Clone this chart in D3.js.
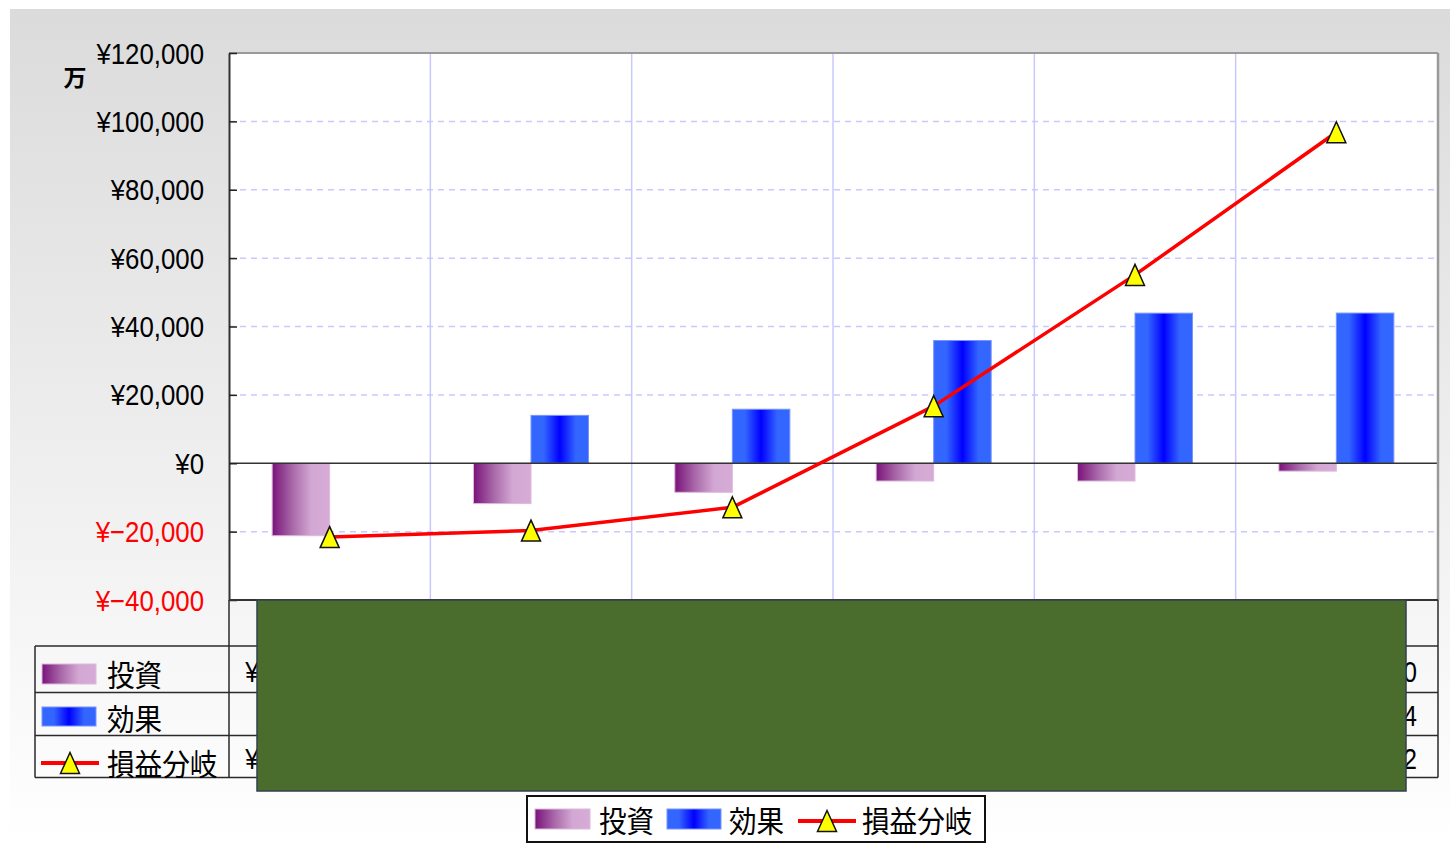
<!DOCTYPE html>
<html>
<head>
<meta charset="utf-8">
<script src="https://cdn.jsdelivr.net/npm/d3@7/dist/d3.min.js"></script>
<style>
  html, body { margin: 0; padding: 0; background: #ffffff; }
  svg { display: block; }
</style>
</head>
<body>
<svg id="chart" width="1450" height="844"></svg>
<script>
// ---- data (raw yen; the value axis is shown in 万) ----
const categories = ["1年目", "2年目", "3年目", "4年目", "5年目", "6年目"];
const seriesNames = ["投資", "効果", "損益分岐"];
const investment = [-212000000, -118000000, -85000000, -52000000, -52000000, -23000000];
const effect = [0, 140000000, 158000000, 359000000, 439000000, 439287914];
const breakEven = [-216000000, -197000000, -129000000, 167000000, 551000000, 968102372];
const yTicks = [-40000, -20000, 0, 20000, 40000, 60000, 80000, 100000, 120000];
const unitLabel = "万";
const unitDivisor = 10000;

const W = 1450, H = 844;
const plot = { left: 229, right: 1437, top: 53, bottom: 600 };
const table = { left: 35, headerBottom: 646, rows: [646, 692.5, 735.5, 777.5] };

const numFont = "'Liberation Sans', Arial, sans-serif";
const jpFont = "'Noto Sans CJK JP', 'Noto Sans CJK SC', sans-serif";
const fmt = d3.format(",");
const yen = v => "¥" + fmt(v);

const svg = d3.select("#chart");
const defs = svg.append("defs");

// background: soft grey fading to white
const bg = defs.append("linearGradient").attr("id", "bgGrad")
  .attr("x1", 0).attr("y1", 0).attr("x2", 0).attr("y2", 1);
bg.append("stop").attr("offset", "0").attr("stop-color", "#dbdbdb");
bg.append("stop").attr("offset", "1").attr("stop-color", "#ffffff");

const invGrad = defs.append("linearGradient").attr("id", "invGrad")
  .attr("x1", 0).attr("y1", 0).attr("x2", 1).attr("y2", 0);
[["0", "#7a137a"], ["0.35", "#a868a8"], ["0.68", "#d3a7d3"], ["1", "#d6acd6"]]
  .forEach(([o, c]) => invGrad.append("stop").attr("offset", o).attr("stop-color", c));

const effGrad = defs.append("linearGradient").attr("id", "effGrad")
  .attr("x1", 0).attr("y1", 0).attr("x2", 1).attr("y2", 0);
[["0", "#3366ff"], ["0.22", "#3366ff"], ["0.5", "#0000ff"], ["0.78", "#3366ff"], ["1", "#3366ff"]]
  .forEach(([o, c]) => effGrad.append("stop").attr("offset", o).attr("stop-color", c));

svg.append("rect").attr("x", 10).attr("y", 9).attr("width", W - 10).attr("height", H - 9)
  .attr("fill", "url(#bgGrad)");

// ---- scales ----
const x = d3.scaleBand().domain(categories).range([plot.left, plot.right]).padding(0);
const xSub = d3.scaleBand().domain(seriesNames.slice(0, 2))
  .range([0, x.bandwidth()]).paddingInner(0).paddingOuter(0.75);
const y = d3.scaleLinear().domain([yTicks[0], yTicks[yTicks.length - 1]])
  .range([plot.bottom, plot.top]);
const yv = v => y(v / unitDivisor);

// plot area
svg.append("rect").attr("x", plot.left).attr("y", plot.top)
  .attr("width", plot.right - plot.left).attr("height", plot.bottom - plot.top)
  .attr("fill", "#ffffff");

// horizontal dashed gridlines
svg.append("g").selectAll("line").data(yTicks.filter(t => t !== 0 && t !== yTicks[0] && t !== yTicks[yTicks.length - 1]))
  .join("line")
  .attr("x1", plot.left).attr("x2", plot.right)
  .attr("y1", d => y(d)).attr("y2", d => y(d))
  .attr("stroke", "#c9c9ff").attr("stroke-width", 1.5).attr("stroke-dasharray", "6,5");

// vertical category gridlines
svg.append("g").selectAll("line").data(categories.slice(1))
  .join("line")
  .attr("x1", d => x(d)).attr("x2", d => x(d))
  .attr("y1", plot.top).attr("y2", plot.bottom)
  .attr("stroke", "#c8c8ff").attr("stroke-width", 1.5);

// bars
const barData = [];
categories.forEach((c, i) => {
  barData.push({ c, s: "投資", v: investment[i], fill: "url(#invGrad)", stroke: "#dcbadc" });
  barData.push({ c, s: "効果", v: effect[i], fill: "url(#effGrad)", stroke: "#7894ff" });
});
svg.append("g").selectAll("rect").data(barData.filter(d => d.v !== 0))
  .join("rect")
  .attr("x", d => x(d.c) + xSub(d.s))
  .attr("width", xSub.bandwidth())
  .attr("y", d => Math.min(yv(d.v), y(0)))
  .attr("height", d => Math.abs(yv(d.v) - y(0)))
  .attr("fill", d => d.fill)
  .attr("stroke", d => d.stroke).attr("stroke-width", 1);

// zero line
svg.append("line").attr("x1", plot.left).attr("x2", plot.right)
  .attr("y1", y(0)).attr("y2", y(0))
  .attr("stroke", "#333333").attr("stroke-width", 1.5);

// plot frame: grey top/right, dark left/bottom
svg.append("line").attr("x1", plot.left).attr("x2", plot.right + 1)
  .attr("y1", plot.top).attr("y2", plot.top).attr("stroke", "#9a9a9a").attr("stroke-width", 2);
svg.append("line").attr("x1", plot.right + 1).attr("x2", plot.right + 1)
  .attr("y1", plot.top).attr("y2", plot.bottom).attr("stroke", "#9a9a9a").attr("stroke-width", 2.5);

// break-even line and markers
const cx = c => x(c) + x.bandwidth() / 2;
const lineGen = d3.line().x((d, i) => cx(categories[i])).y(d => yv(d));
svg.append("path").datum(breakEven).attr("d", lineGen)
  .attr("fill", "none").attr("stroke", "#ff0000").attr("stroke-width", 3.5)
  .attr("stroke-linejoin", "round");

const tri = (px, py) => `M${px},${py - 10.5}L${px + 9.5},${py + 10.5}L${px - 9.5},${py + 10.5}Z`;
svg.append("g").selectAll("path").data(breakEven)
  .join("path")
  .attr("d", (d, i) => tri(cx(categories[i]), yv(d)))
  .attr("fill", "#ffff00").attr("stroke", "#111111").attr("stroke-width", 1.5)
  .attr("stroke-linejoin", "miter");

// value axis
const yAxis = d3.axisLeft(y).tickValues(yTicks).tickSizeInner(-8).tickSizeOuter(0)
  .tickPadding(25).tickFormat(d => yen(d));
const ag = svg.append("g").attr("transform", `translate(${plot.left},0)`).call(yAxis);
ag.select(".domain").attr("stroke", "#333333").attr("stroke-width", 2);
ag.selectAll(".tick line").attr("stroke", "#222222").attr("stroke-width", 1.5);
ag.selectAll(".tick text")
  .attr("x", null).attr("dy", null)
  .attr("transform", "translate(-25,0) scale(0.89,1)")
  .attr("dominant-baseline", "central")
  .attr("font-family", numFont).attr("font-size", 29)
  .attr("fill", d => d < 0 ? "#ff0000" : "#000000");

svg.append("text").attr("x", 75).attr("y", 76).text(unitLabel)
  .attr("text-anchor", "middle").attr("dominant-baseline", "central")
  .attr("font-family", jpFont).attr("font-weight", "bold").attr("font-size", 23)
  .attr("fill", "#000000");

// ---- data table ----
const tg = svg.append("g");
const tStroke = "#2a2a2a";
table.rows.forEach(ry => {
  tg.append("line").attr("x1", table.left).attr("x2", plot.right + 1)
    .attr("y1", ry).attr("y2", ry).attr("stroke", tStroke).attr("stroke-width", 1.5);
});
const lastRow = table.rows[table.rows.length - 1];
tg.append("line").attr("x1", table.left).attr("x2", table.left)
  .attr("y1", table.headerBottom).attr("y2", lastRow).attr("stroke", tStroke).attr("stroke-width", 1.5);
tg.append("line").attr("x1", plot.right + 1).attr("x2", plot.right + 1)
  .attr("y1", plot.bottom).attr("y2", lastRow).attr("stroke", tStroke).attr("stroke-width", 1.5);
tg.selectAll("line.col").data(categories).join("line").attr("class", "col")
  .attr("x1", d => x(d)).attr("x2", d => x(d))
  .attr("y1", plot.bottom).attr("y2", lastRow).attr("stroke", tStroke).attr("stroke-width", 1.5);
tg.append("line").attr("x1", plot.left).attr("x2", plot.right + 1)
  .attr("y1", plot.bottom).attr("y2", plot.bottom).attr("stroke", "#333333").attr("stroke-width", 2);

// category header labels
tg.selectAll("text.cat").data(categories).join("text").attr("class", "cat")
  .attr("transform", d => `translate(${cx(d)},623) scale(0.9,1)`)
  .attr("text-anchor", "middle").attr("dominant-baseline", "central")
  .attr("font-family", jpFont).attr("font-size", 28).text(d => d);

// table values
const rowSeries = [investment, effect, breakEven];
const rowTextY = [672, 716, 759];
rowSeries.forEach((vals, r) => {
  tg.selectAll(`text.v${r}`).data(vals).join("text").attr("class", `v${r}`)
    .attr("transform", (d, i) => `translate(${x(categories[i]) + x.bandwidth() - 20},${rowTextY[r]}) scale(0.85,1)`)
    .attr("text-anchor", "end").attr("dominant-baseline", "central")
    .attr("font-family", numFont).attr("font-size", 29).attr("fill", "#000000")
    .text(d => yen(d));
});

// legend keys
function swatch(g, kx, ky, w, h, fill, stroke) {
  g.append("rect").attr("x", kx).attr("y", ky).attr("width", w).attr("height", h)
    .attr("fill", fill).attr("stroke", stroke).attr("stroke-width", 1);
}
function lineKey(g, x1, x2, ky) {
  g.append("line").attr("x1", x1).attr("x2", x2).attr("y1", ky).attr("y2", ky)
    .attr("stroke", "#ff0000").attr("stroke-width", 4);
  g.append("path").attr("d", tri((x1 + x2) / 2, ky)).attr("fill", "#ffff00")
    .attr("stroke", "#111111").attr("stroke-width", 1.5);
}
function jpLabel(g, lx, ly, t) {
  g.append("text").attr("transform", `translate(${lx},${ly}) scale(0.92,1)`)
    .attr("dominant-baseline", "central")
    .attr("font-family", jpFont).attr("font-size", 30).attr("fill", "#000000").text(t);
}

swatch(tg, 42, 664, 54, 20, "url(#invGrad)", "#dcbadc");
jpLabel(tg, 107, 673, seriesNames[0]);
swatch(tg, 42, 707, 54, 19, "url(#effGrad)", "#7894ff");
jpLabel(tg, 107, 717, seriesNames[1]);
lineKey(tg, 41, 99, 763);
jpLabel(tg, 107, 762, seriesNames[2]);

// masking panel over the table body
svg.append("rect").attr("x", 257).attr("y", 600).attr("width", 1149).attr("height", 191)
  .attr("fill", "#4a6c2c").attr("stroke", "#33404d").attr("stroke-width", 1.5);

// ---- legend ----
const lg = svg.append("g");
lg.append("rect").attr("x", 527).attr("y", 796).attr("width", 458).attr("height", 46)
  .attr("fill", "#ffffff").attr("stroke", "#111111").attr("stroke-width", 2);
swatch(lg, 535, 809, 55, 20, "url(#invGrad)", "#dcbadc");
jpLabel(lg, 599, 819, seriesNames[0]);
swatch(lg, 667, 809, 54, 20, "url(#effGrad)", "#7894ff");
jpLabel(lg, 729, 819, seriesNames[1]);
lineKey(lg, 798, 856, 821);
jpLabel(lg, 862, 819, seriesNames[2]);
</script>
</body>
</html>
